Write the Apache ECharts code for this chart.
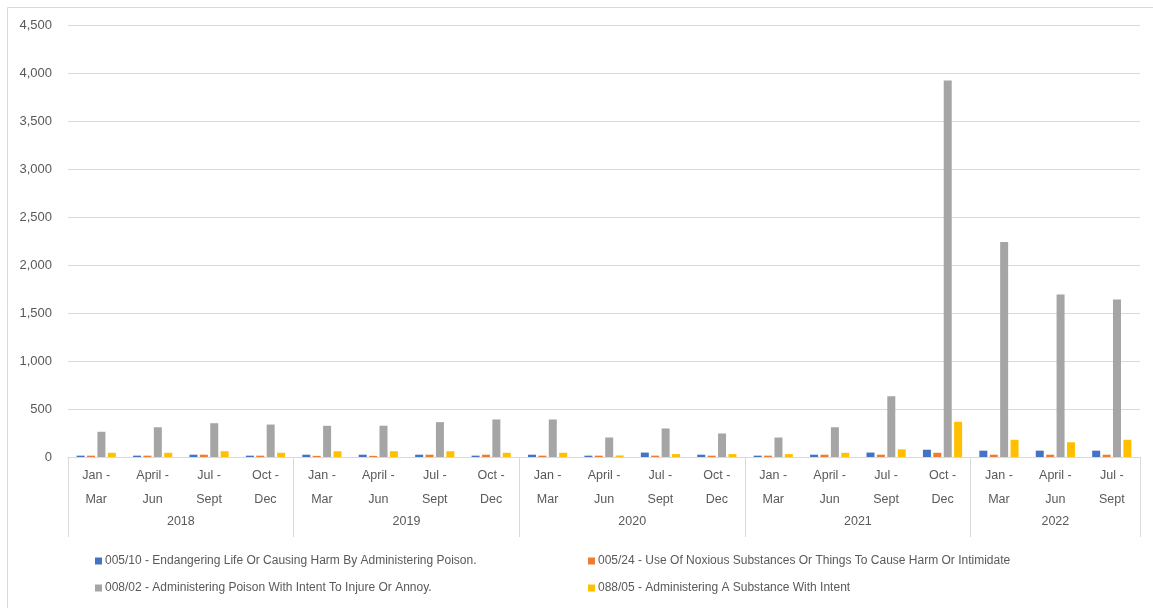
<!DOCTYPE html>
<html>
<head>
<meta charset="utf-8">
<script src="https://cdn.jsdelivr.net/npm/echarts@6/dist/echarts.min.js"></script>
<style>
html,body{margin:0;padding:0;background:#fff;}
#c{width:1153px;height:608px;}
</style>
</head>
<body>
<div id="c"></div>
<script>
const quarters = ["Jan -\nMar","April -\nJun","Jul -\nSept","Oct -\nDec",
  "Jan -\nMar","April -\nJun","Jul -\nSept","Oct -\nDec",
  "Jan -\nMar","April -\nJun","Jul -\nSept","Oct -\nDec",
  "Jan -\nMar","April -\nJun","Jul -\nSept","Oct -\nDec",
  "Jan -\nMar","April -\nJun","Jul -\nSept"];
const years = ["2018","2019","2020","2021","2022"];
const yearSpans = [4,4,4,4,3];
const seriesNames = [
  "005/10 - Endangering Life Or Causing Harm By Administering Poison.",
  "005/24 - Use Of Noxious Substances Or Things To Cause Harm Or Intimidate",
  "008/02 - Administering Poison With Intent To Injure Or Annoy.",
  "088/05 - Administering A Substance With Intent"
];
const s00510 = [14,14,24,14, 24,24,24,14, 24,14,46,24, 14,24,46,76, 66,66,66];
const s00524 = [14,14,24,14, 12,12,24,24, 14,14,14,14, 14,24,24,44, 24,24,24];
const s00802 = [263,310,352,338, 325,326,363,391, 391,203,297,245, 203,310,633,3922, 2240,1693,1640];
const s08805 = [44,44,60,44, 60,60,60,44, 44,16,30,30, 30,44,80,367, 179,154,179];
const yTicks = [0,500,1000,1500,2000,2500,3000,3500,4000,4500];

const colors = ["#4472C4","#ED7D31","#A5A5A5","#FFC000"];
const values = [s00510,s00524,s00802,s08805];

const bounds = [0];
yearSpans.forEach(s => bounds.push(bounds[bounds.length-1] + s));
const centers = yearSpans.map((s,i) => bounds[i] + s/2);

const font = "'Liberation Sans', Arial, sans-serif";
const txt = "#595959";

const chart = echarts.init(document.getElementById('c'), null, {renderer:'canvas'});
chart.setOption({
  animation: false,
  color: colors,
  textStyle: {fontFamily: font},
  graphic: [{
    type: 'rect', silent: true, z: -1,
    shape: {x: 7.5, y: 7.5, width: 1170, height: 620},
    style: {fill: 'none', stroke: '#d9d9d9', lineWidth: 1}
  }],
  grid: {left: 68, right: 13, top: 25, bottom: 151, containLabel: false},
  xAxis: [{
    type: 'category',
    data: quarters,
    axisLine: {lineStyle: {color: '#d9d9d9'}},
    axisTick: {show: false},
    axisLabel: {color: txt, fontSize: 12.5, lineHeight: 24, margin: 7, interval: 0, fontFamily: font}
  }, {
    type: 'value',
    position: 'bottom',
    min: 0, max: quarters.length,
    axisLine: {show: false},
    splitLine: {show: false},
    axisTick: {show: true, customValues: bounds, length: 80, lineStyle: {color: '#d9d9d9'}},
    axisLabel: {
      customValues: centers, color: txt, fontSize: 12.5, margin: 58, fontFamily: font,
      formatter: v => years[centers.indexOf(v)]
    }
  }],
  yAxis: {
    type: 'value',
    min: yTicks[0], max: yTicks[yTicks.length-1], interval: yTicks[1]-yTicks[0],
    axisLine: {show: false},
    axisTick: {show: false},
    splitLine: {lineStyle: {color: '#d9d9d9'}},
    axisLabel: {color: txt, fontSize: 13, margin: 16, fontFamily: font,
      formatter: v => v.toLocaleString('en-US')}
  },
  legend: [{
    data: [seriesNames[0], seriesNames[2]],
    orient: 'vertical', left: 90, top: 550,
    itemWidth: 7, itemHeight: 7, itemGap: 15, icon: 'rect',
    textStyle: {color: txt, fontSize: 12, fontFamily: font, padding: [0,0,0,-2]}
  }, {
    data: [seriesNames[1], seriesNames[3]],
    orient: 'vertical', left: 583, top: 550,
    itemWidth: 7, itemHeight: 7, itemGap: 15, icon: 'rect',
    textStyle: {color: txt, fontSize: 12, fontFamily: font, padding: [0,0,0,-2]}
  }],
  series: values.map((d,i) => ({
    name: seriesNames[i],
    type: 'bar',
    xAxisIndex: 0,
    data: d,
    barWidth: 8,
    barGap: '30%',
    itemStyle: {color: colors[i]}
  }))
});
</script>
</body>
</html>
